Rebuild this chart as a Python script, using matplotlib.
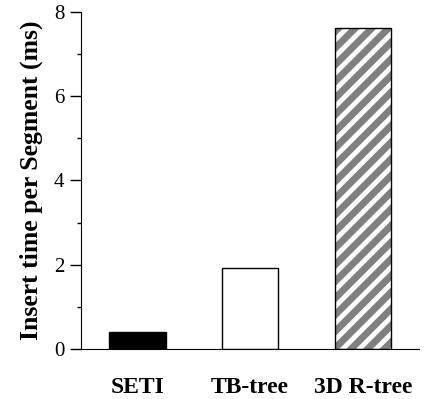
import matplotlib
matplotlib.use('Agg')
import matplotlib.pyplot as plt
from matplotlib.ticker import MultipleLocator

methods = ['SETI', 'TB-tree', '3D R-tree']
insert_ms = [0.40, 1.93, 7.63]

plt.rcParams['font.family'] = ['Liberation Serif', 'DejaVu Serif']
plt.rcParams['hatch.linewidth'] = 5

fig = plt.figure(figsize=(4.25, 3.99), dpi=100)
ax = fig.add_axes([0.1906, 0.1253, 0.7954, 0.8447])

x = range(len(methods))
# SETI black, TB-tree white, 3D R-tree grey stripes
ax.bar(x[0], insert_ms[0], width=0.5, color='black', edgecolor='black', linewidth=1)
ax.bar(x[1], insert_ms[1], width=0.5, color='white', edgecolor='black', linewidth=1)
ax.bar(x[2], insert_ms[2], width=0.5, color='white', edgecolor='#808080', hatch='//', linewidth=0)
ax.bar(x[2], insert_ms[2], width=0.5, fill=False, edgecolor='black', linewidth=1)

ax.set_xlim(-0.5, 2.5)
ax.set_ylim(0, 8)
ax.set_xticks(list(x))
ax.set_xticklabels(methods, fontsize=17, fontweight='bold')
ax.tick_params(axis='x', length=0, pad=20)
ax.yaxis.set_major_locator(MultipleLocator(2))
ax.yaxis.set_minor_locator(MultipleLocator(1))
ax.tick_params(axis='y', which='major', direction='out', length=8, width=1, labelsize=15, pad=4)
ax.tick_params(axis='y', which='minor', direction='out', length=3, width=1)
ax.set_ylabel('Insert time per Segment (ms)', fontsize=18.5, fontweight='bold', labelpad=8)

ax.spines['top'].set_visible(False)
ax.spines['right'].set_visible(False)

plt.savefig('out.png', dpi=100)
